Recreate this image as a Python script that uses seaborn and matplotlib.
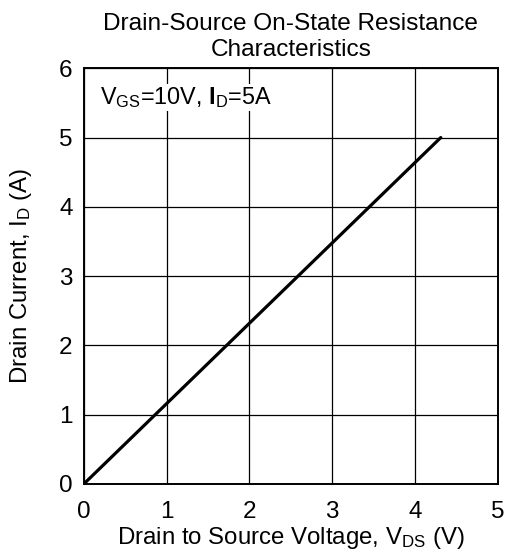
import matplotlib
matplotlib.use("Agg")
import matplotlib.pyplot as plt
import seaborn as sns
import pandas as pd

# Data
vds = [0.0, 4.31]
id_a = [0.0, 5.0]
x_ticks = [0, 1, 2, 3, 4, 5]
y_ticks = [0, 1, 2, 3, 4, 5, 6]

sns.set_style("white")
plt.rcParams['font.family'] = ['Liberation Sans', 'DejaVu Sans']
plt.rcParams['mathtext.fontset'] = 'custom'
plt.rcParams['mathtext.rm'] = 'Liberation Sans'
plt.rcParams['mathtext.it'] = 'Liberation Sans:italic'
plt.rcParams['mathtext.bf'] = 'Liberation Sans:bold'

df = pd.DataFrame({"Vds": vds, "Id": id_a})

fig = plt.figure(figsize=(5.05, 5.55), dpi=100)
ax = fig.add_axes([0.166, 0.128, 0.820, 0.749])

sns.lineplot(data=df, x="Vds", y="Id", ax=ax, color="black", linewidth=2.3)

ax.set_xlim(0, 5)
ax.set_ylim(0, 6)
ax.set_xticks(x_ticks)
ax.set_yticks(y_ticks)
ax.tick_params(length=0, labelsize=17.5, colors="black")
ax.tick_params(axis="x", pad=12)
ax.tick_params(axis="y", pad=8)
ax.grid(True, color="black", linewidth=0.9)
for s in ax.spines.values():
    s.set_color("black")
    s.set_linewidth(1.4)

ax.set_xlabel(r"Drain to Source Voltage, V$_{\mathregular{DS}}$ (V)", fontsize=17.3, color="black", labelpad=2)
ax.set_ylabel(r"Drain Current, I$_{\mathregular{D}}$ (A)", fontsize=17.3, color="black", labelpad=18)
ax.set_title("Drain-Source On-State Resistance\nCharacteristics", fontsize=17.6, color="black", pad=9, linespacing=1.2)

ax.text(0.19, 5.58, r"V$_{\mathregular{GS}}$=10V, $\mathbf{I}_{\mathregular{D}}$=5A",
        fontsize=16.8, color="black", va="center", ha="left",
        bbox=dict(facecolor="white", edgecolor="none", pad=1))

fig.savefig("out.png", dpi=100)
